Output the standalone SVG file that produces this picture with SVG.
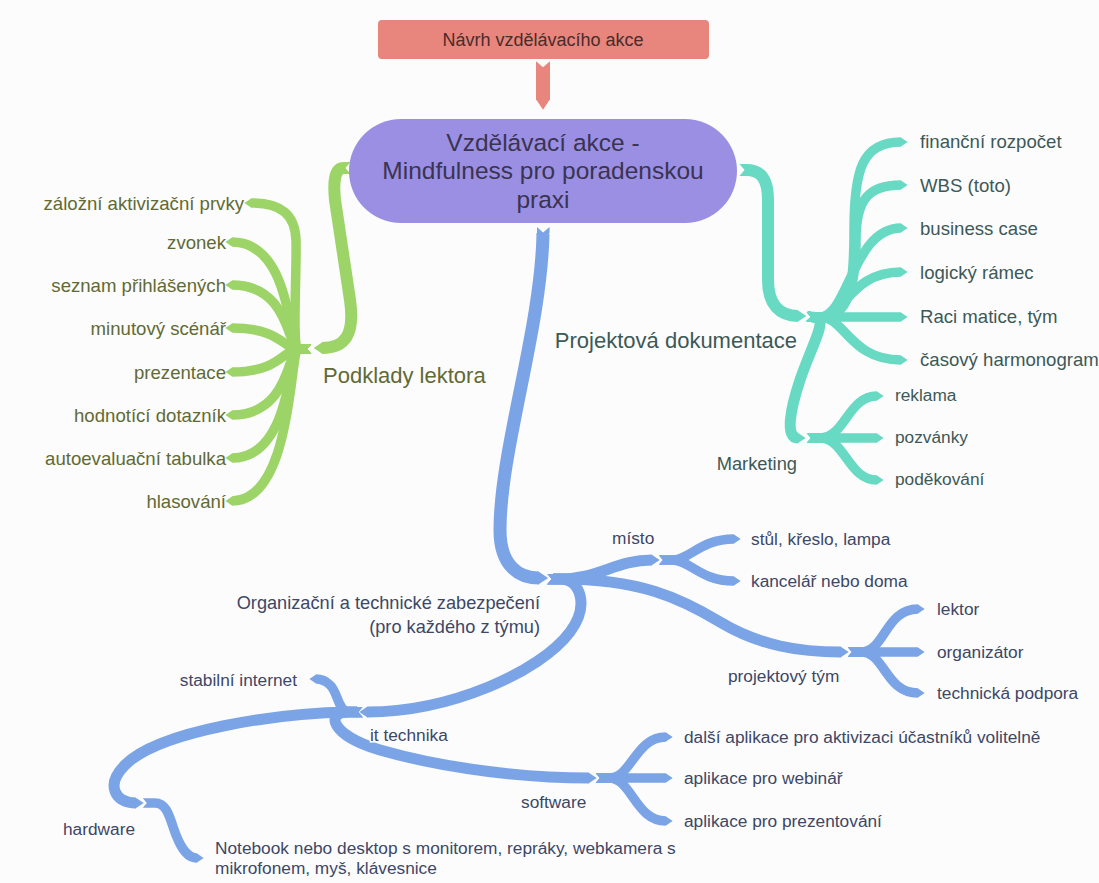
<svg xmlns="http://www.w3.org/2000/svg" width="1099" height="883" viewBox="0 0 1099 883">
<style>
  text { font-family: "Liberation Sans", Arial, sans-serif; dominant-baseline: central; }
  .br { fill: none; stroke-linecap: butt; stroke-linejoin: round; }
  .g { stroke: #9dd468; }
  .t { stroke: #68d9c3; }
  .b { stroke: #7ba4e6; }
  .r { stroke: #e8857c; }
  .w13 { stroke-width: 13; }
  .w12 { stroke-width: 12; }
  .w11 { stroke-width: 11; }
  .w95 { stroke-width: 9.5; }
  .gt { fill: #616a34; font-size: 18.6px; }
  .tt { fill: #3c5957; font-size: 18.6px; }
  .tm { fill: #3c5957; font-size: 17.3px; }
  .bt { fill: #3d4766; font-size: 17.3px; }
  .big { font-size: 22px; }
  .halo { paint-order: stroke; stroke: #fcfcfc; stroke-width: 3px; }
</style>
<defs>
  <marker id="hG" viewBox="-0.05 -0.5 0.8 1" refX="0" refY="0" markerWidth="0.8" markerHeight="1" orient="auto"><path d="M-0.05,-0.5 L0.7,0 L-0.05,0.5 Z" fill="#9dd468"/></marker>
  <marker id="tG" viewBox="-0.6 -0.5 0.7 1" refX="0" refY="0" markerWidth="0.7" markerHeight="1" orient="auto"><path d="M0.05,-0.5 L-0.55,-0.5 L-0.12,0 L-0.55,0.5 L0.05,0.5 Z" fill="#9dd468"/></marker>
  <marker id="hT" viewBox="-0.05 -0.5 0.8 1" refX="0" refY="0" markerWidth="0.8" markerHeight="1" orient="auto"><path d="M-0.05,-0.5 L0.7,0 L-0.05,0.5 Z" fill="#68d9c3"/></marker>
  <marker id="tT" viewBox="-0.6 -0.5 0.7 1" refX="0" refY="0" markerWidth="0.7" markerHeight="1" orient="auto"><path d="M0.05,-0.5 L-0.55,-0.5 L-0.12,0 L-0.55,0.5 L0.05,0.5 Z" fill="#68d9c3"/></marker>
  <marker id="hB" viewBox="-0.05 -0.5 0.8 1" refX="0" refY="0" markerWidth="0.8" markerHeight="1" orient="auto"><path d="M-0.05,-0.5 L0.7,0 L-0.05,0.5 Z" fill="#7ba4e6"/></marker>
  <marker id="tB" viewBox="-0.6 -0.5 0.7 1" refX="0" refY="0" markerWidth="0.7" markerHeight="1" orient="auto"><path d="M0.05,-0.5 L-0.55,-0.5 L-0.12,0 L-0.55,0.5 L0.05,0.5 Z" fill="#7ba4e6"/></marker>
  <marker id="hR" viewBox="-0.05 -0.5 0.8 1" refX="0" refY="0" markerWidth="0.8" markerHeight="1" orient="auto"><path d="M-0.05,-0.5 L0.7,0 L-0.05,0.5 Z" fill="#e8857c"/></marker>
  <marker id="tR" viewBox="-0.6 -0.5 0.7 1" refX="0" refY="0" markerWidth="0.7" markerHeight="1" orient="auto"><path d="M0.05,-0.5 L-0.55,-0.5 L-0.12,0 L-0.55,0.5 L0.05,0.5 Z" fill="#e8857c"/></marker>
</defs>
<rect width="1099" height="883" fill="#fcfcfc"/>

<g id="connectors">
  <!-- red -->
  <path class="br r" style="stroke-width:14" d="M543,69 L543,100" marker-start="url(#tR)" marker-end="url(#hR)"/>
  <!-- green -->
  <path class="br g w12" d="M344,168 C335,168 333,180 335,200 L350,300 C355,335 345,348 322,348" marker-start="url(#tG)" marker-end="url(#hG)"/>
  <path class="br g w95" d="M306,349 L298,349 C292,349 297,265 296,240 C295,215 282,203 251,203" marker-start="url(#tG)" marker-end="url(#hG)"/>
  <path class="br g w95" d="M306,349 L298,349 C289,349 292,242 232,242" marker-start="url(#tG)" marker-end="url(#hG)"/>
  <path class="br g w95" d="M306,349 L298,349 C288,349 290,285 232,285" marker-start="url(#tG)" marker-end="url(#hG)"/>
  <path class="br g w95" d="M306,349 L298,349 C284,349 280,328 232,328" marker-start="url(#tG)" marker-end="url(#hG)"/>
  <path class="br g w95" d="M306,349 L298,349 C284,349 280,372 232,372" marker-start="url(#tG)" marker-end="url(#hG)"/>
  <path class="br g w95" d="M306,349 L298,349 C288,349 290,415 232,415" marker-start="url(#tG)" marker-end="url(#hG)"/>
  <path class="br g w95" d="M306,349 L298,349 C289,349 292,458 232,458" marker-start="url(#tG)" marker-end="url(#hG)"/>
  <path class="br g w95" d="M306,349 L298,349 C290,349 293,501 232,501" marker-start="url(#tG)" marker-end="url(#hG)"/>
  <!-- teal -->
  <path class="br t w12" d="M746,170 C762,170 768,180 768,200 L768,280 C768,305 780,316 798,316" marker-start="url(#tT)" marker-end="url(#hT)"/>
  <path class="br t w95" d="M812,317 L820,317 C850,317 854,290 854,230 C854,170 862,142 901,142" marker-start="url(#tT)" marker-end="url(#hT)"/>
  <path class="br t w95" d="M812,317 L820,317 C850,317 856,280 856,240 C856,200 868,185 901,185" marker-start="url(#tT)" marker-end="url(#hT)"/>
  <path class="br t w95" d="M812,317 L820,317 C848,317 853,228 901,228" marker-start="url(#tT)" marker-end="url(#hT)"/>
  <path class="br t w95" d="M812,317 L820,317 C845,317 850,272 901,272" marker-start="url(#tT)" marker-end="url(#hT)"/>
  <path class="br t w95" d="M812,317 L901,317" marker-start="url(#tT)" marker-end="url(#hT)"/>
  <path class="br t w95" d="M812,317 L820,317 C845,317 850,360 901,360" marker-start="url(#tT)" marker-end="url(#hT)"/>
  <path class="br t w11" d="M812,317 L818,318 C826,322 810,350 800,380 C790,410 785,438 798,438" marker-start="url(#tT)" marker-end="url(#hT)"/>
  <path class="br t w95" d="M812,438 L820,438 C845,438 848,396 877,396" marker-start="url(#tT)" marker-end="url(#hT)"/>
  <path class="br t w95" d="M812,438 L877,438" marker-start="url(#tT)" marker-end="url(#hT)"/>
  <path class="br t w95" d="M812,438 L820,438 C845,438 848,480 877,480" marker-start="url(#tT)" marker-end="url(#hT)"/>
  <!-- blue -->
  <path class="br b w13" d="M543,234 C541,330 500,450 500,530 C500,565 518,578 539,578" marker-start="url(#tB)" marker-end="url(#hB)"/>
  <path class="br b w11" d="M553,579 L560,579 C600,579 615,560 652,560" marker-start="url(#tB)" marker-end="url(#hB)"/>
  <path class="br b w11" d="M553,579 L560,579 C640,579 680,598 720,622 C760,646 800,652 841,652" marker-start="url(#tB)" marker-end="url(#hB)"/>
  <path class="br b w11" d="M553,579 L560,579 C580,579 590,605 570,632 C540,672 450,712 367,712" marker-start="url(#tB)" marker-end="url(#hB)"/>
  <path class="br b w95" d="M664,560 L672,560 C690,560 700,539 734,539" marker-start="url(#tB)" marker-end="url(#hB)"/>
  <path class="br b w95" d="M664,560 L672,560 C690,560 700,581 734,581" marker-start="url(#tB)" marker-end="url(#hB)"/>
  <path class="br b w95" d="M853,652 L861,652 C885,652 885,609 918,609" marker-start="url(#tB)" marker-end="url(#hB)"/>
  <path class="br b w95" d="M853,652 L918,652" marker-start="url(#tB)" marker-end="url(#hB)"/>
  <path class="br b w95" d="M853,652 L861,652 C885,652 885,693 918,693" marker-start="url(#tB)" marker-end="url(#hB)"/>
  <path class="br b w95" d="M357,712 L349,712 C338,712 338,692 330,685 C325,680 320,679 316,679" marker-start="url(#tB)" marker-end="url(#hB)"/>
  <path class="br b w11" d="M357,712 L349,712 C280,713 160,730 125,765 C105,785 115,803 136,803" marker-start="url(#tB)" marker-end="url(#hB)"/>
  <path class="br b w11" d="M357,712 L349,712 C325,712 330,735 380,750 C450,770 530,778 589,778" marker-start="url(#tB)" marker-end="url(#hB)"/>
  <path class="br b w95" d="M148,803 L155,803 C168,803 170,820 176,835 C182,850 188,858 197,858" marker-start="url(#tB)" marker-end="url(#hB)"/>
  <path class="br b w95" d="M601,778 L609,778 C632,778 635,737 666,737" marker-start="url(#tB)" marker-end="url(#hB)"/>
  <path class="br b w95" d="M601,778 L666,778" marker-start="url(#tB)" marker-end="url(#hB)"/>
  <path class="br b w95" d="M601,778 L609,778 C632,778 635,821 666,821" marker-start="url(#tB)" marker-end="url(#hB)"/>
</g>

<g id="n-navrh">
  <rect x="378" y="20" width="331" height="39" rx="4" fill="#e8857c"/>
  <text x="543" y="40" text-anchor="middle" font-size="18" fill="#4a2c2a">Návrh vzdělávacího akce</text>
</g>
<g id="n-central">
  <rect x="349" y="119" width="388" height="104" rx="52" fill="#9a8fe3"/>
  <text x="543" y="142" text-anchor="middle" font-size="24.5" fill="#3a3450">Vzdělávací akce -</text>
  <text x="543" y="170" text-anchor="middle" font-size="24.5" fill="#3a3450">Mindfulness pro poradenskou</text>
  <text x="543" y="199" text-anchor="middle" font-size="24.5" fill="#3a3450">praxi</text>
</g>

<g id="n-podklady"><text class="gt big" x="323" y="375">Podklady lektora</text></g>
<g id="n-zalozni"><text class="gt" x="244" y="203" text-anchor="end">záložní aktivizační prvky</text></g>
<g id="n-zvonek"><text class="gt" x="226" y="242" text-anchor="end">zvonek</text></g>
<g id="n-seznam"><text class="gt" x="226" y="285" text-anchor="end">seznam přihlášených</text></g>
<g id="n-minutovy"><text class="gt" x="226" y="328" text-anchor="end">minutový scénář</text></g>
<g id="n-prezentace"><text class="gt" x="226" y="372" text-anchor="end">prezentace</text></g>
<g id="n-hodnotici"><text class="gt" x="226" y="415" text-anchor="end">hodnotící dotazník</text></g>
<g id="n-autoevaluacni"><text class="gt" x="226" y="458" text-anchor="end">autoevaluační tabulka</text></g>
<g id="n-hlasovani"><text class="gt" x="226" y="501" text-anchor="end">hlasování</text></g>

<g id="n-projektova"><text class="tt big" x="797" y="340" text-anchor="end" fill="#3e6a65">Projektová dokumentace</text></g>
<g id="n-financni"><text class="tt" x="920" y="141">finanční rozpočet</text></g>
<g id="n-wbs"><text class="tt" x="920" y="185">WBS (toto)</text></g>
<g id="n-business"><text class="tt" x="920" y="228">business case</text></g>
<g id="n-logicky"><text class="tt" x="920" y="272">logický rámec</text></g>
<g id="n-raci"><text class="tt" x="920" y="316">Raci matice, tým</text></g>
<g id="n-casovy"><text class="tt" x="920" y="359">časový harmonogram</text></g>
<g id="n-marketing"><text class="tt" x="797" y="463" text-anchor="end" style="font-size:18.3px">Marketing</text></g>
<g id="n-reklama"><text class="tm" x="895" y="395">reklama</text></g>
<g id="n-pozvanky"><text class="tm" x="895" y="437">pozvánky</text></g>
<g id="n-podekovani"><text class="tm" x="895" y="479">poděkování</text></g>

<g id="n-organizacni">
  <text class="bt" x="540" y="603" text-anchor="end" style="font-size:18.2px">Organizační a technické zabezpečení</text>
  <text class="bt" x="540" y="627" text-anchor="end" style="font-size:18.2px">(pro každého z týmu)</text>
</g>
<g id="n-misto"><text class="bt" x="612" y="538">místo</text></g>
<g id="n-stul"><text class="bt" x="751" y="539">stůl, křeslo, lampa</text></g>
<g id="n-kancelar"><text class="bt" x="751" y="581">kancelář nebo doma</text></g>
<g id="n-projektovy-tym"><text class="bt" x="728" y="676">projektový tým</text></g>
<g id="n-lektor"><text class="bt" x="937" y="609">lektor</text></g>
<g id="n-organizator"><text class="bt" x="937" y="652">organizátor</text></g>
<g id="n-technicka"><text class="bt" x="937" y="693">technická podpora</text></g>
<g id="n-it"><text class="bt halo" x="370" y="735">it technika</text></g>
<g id="n-internet"><text class="bt" x="297" y="680" text-anchor="end">stabilní internet</text></g>
<g id="n-hardware"><text class="bt" x="63" y="829">hardware</text></g>
<g id="n-notebook">
  <text class="bt" x="215" y="848">Notebook nebo desktop s monitorem, repráky, webkamera s</text>
  <text class="bt" x="215" y="868">mikrofonem, myš, klávesnice</text>
</g>
<g id="n-software"><text class="bt" x="521" y="802">software</text></g>
<g id="n-dalsi"><text class="bt" x="684" y="737">další aplikace pro aktivizaci účastníků volitelně</text></g>
<g id="n-webinar"><text class="bt" x="684" y="778">aplikace pro webinář</text></g>
<g id="n-prezentovani"><text class="bt" x="684" y="821">aplikace pro prezentování</text></g>
</svg>
